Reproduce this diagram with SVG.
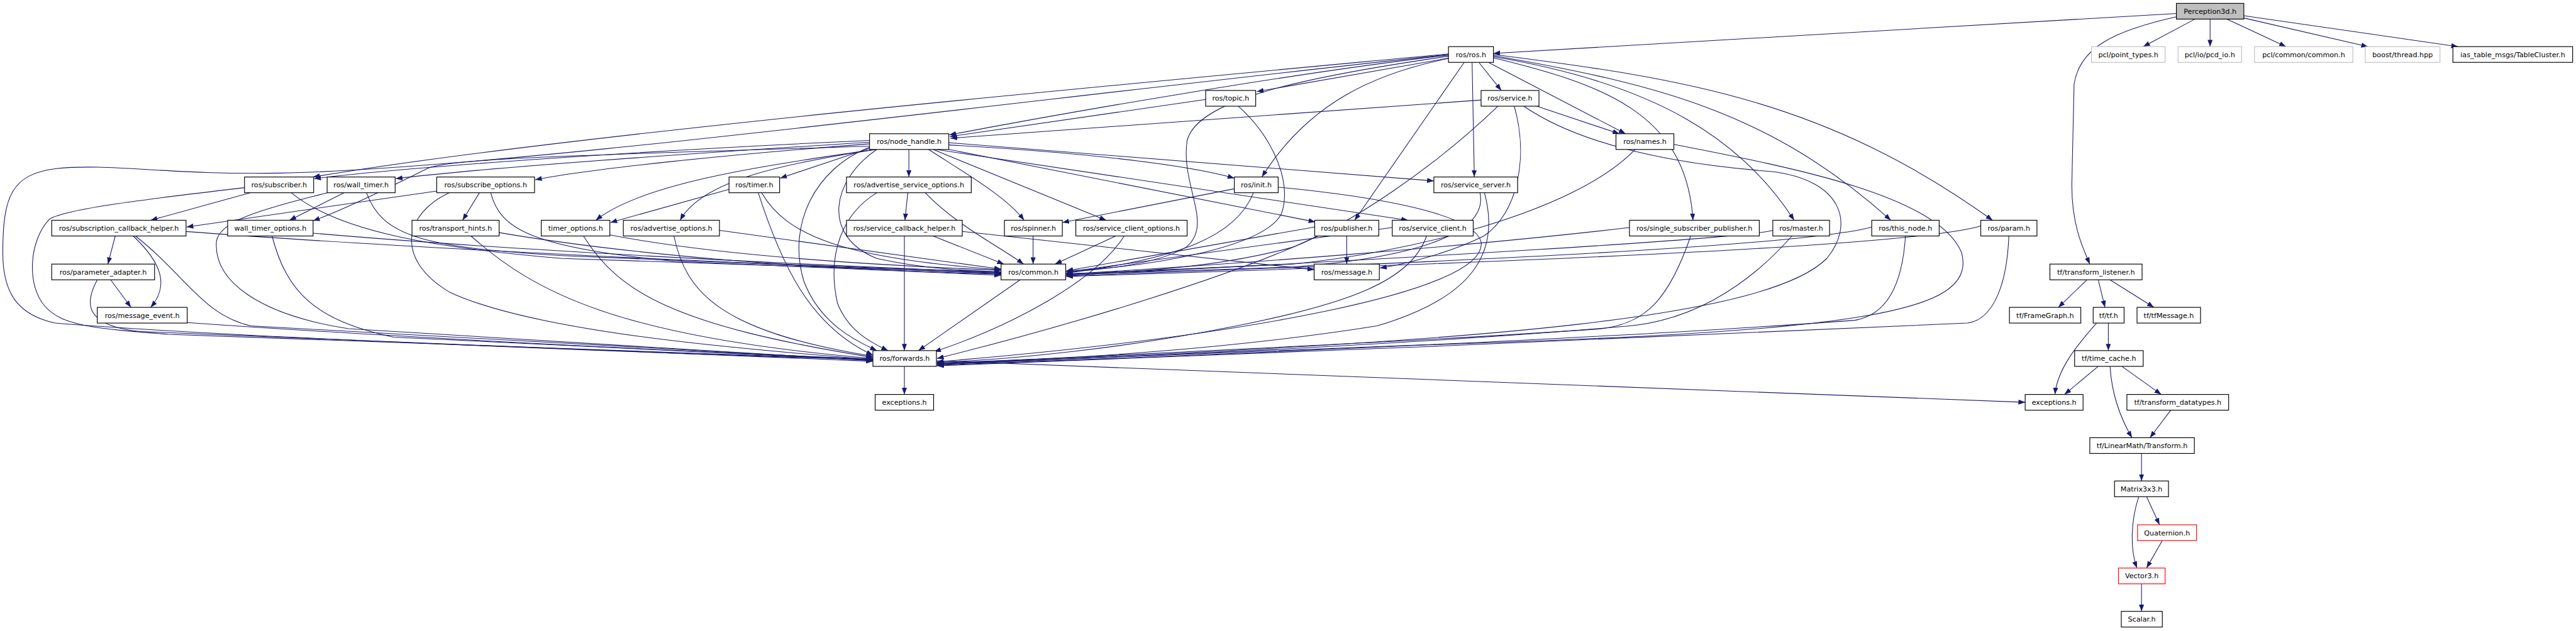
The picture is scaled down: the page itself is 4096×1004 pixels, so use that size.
<svg xmlns="http://www.w3.org/2000/svg" width="4096" height="1004" viewBox="0 0 4096 1004">
<defs>
<style>
.n rect{fill:#fff;stroke:#000;stroke-width:1.3}
.g rect{stroke:#bfbfbf}
.r rect{stroke:#ff0000}
.root rect{fill:#bfbfbf}
.n text{font-family:"DejaVu Sans","Liberation Sans",sans-serif;font-size:12.5px;text-anchor:middle;fill:#000}
#edges path{fill:none;stroke:#191970;stroke-width:1.2;marker-end:url(#a)}
</style>
<marker id="a" markerWidth="12" markerHeight="9" refX="12" refY="4.5" orient="auto" markerUnits="userSpaceOnUse"><path d="M0,0 L12,4.5 L0,9 z" fill="#191970"/></marker>
</defs>
<rect width="4096" height="1004" fill="#fff"/>
<g transform="scale(0.89374,0.89403)">
<g id="edges">
<path d="M3872,24 L2657,95"/>
<path d="M3872,30 C3760,55 3700,85 3690,150 L3686,330 C3686,400 3705,440 3718,470"/>
<path d="M3905,34 L3813,83"/>
<path d="M3932,34 L3932,83"/>
<path d="M3962,34 L4067,83"/>
<path d="M3992,32 L4213,83"/>
<path d="M3992,28 L4373,83"/>
<path d="M2577,98 C2300,130 1900,200 1689,240"/>
<path d="M2580,103 L2236,163"/>
<path d="M2631,111 L2671,161"/>
<path d="M2648,111 L2892,238"/>
<path d="M2577,104 C2450,130 2330,180 2245,315"/>
<path d="M2619,111 L2623,315"/>
<path d="M2605,111 L2410,392"/>
<path d="M2657,103 C2850,150 3000,200 3012,392"/>
<path d="M2657,101 C2950,150 3100,250 3192,392"/>
<path d="M2657,99 C2950,150 3150,200 3364,392"/>
<path d="M2657,97 C3000,140 3250,180 3545,392"/>
<path d="M2577,96 C2000,150 1000,240 557,315"/>
<path d="M2577,100 C2300,140 2130,180 2112,250 C2100,330 2160,400 2110,440 C2060,470 1960,480 1897,484"/>
<path d="M2577,97 C1800,180 900,300 500,308 C300,312 200,290 100,300 C20,310 5,350 5,450 C5,520 30,560 98,575 C400,600 1200,630 1553,640"/>
<path d="M1547,250 C1100,270 700,300 559,318"/>
<path d="M1547,253 C1200,275 850,300 704,318"/>
<path d="M1547,256 C1300,275 1050,300 952,320"/>
<path d="M1547,264 L1388,317"/>
<path d="M1617,266 L1617,315"/>
<path d="M1547,260 C1100,275 800,280 760,300 C720,320 620,370 557,393"/>
<path d="M1555,266 C1400,290 1150,320 1060,392"/>
<path d="M1560,266 C1400,290 1250,320 1210,392"/>
<path d="M1652,266 C1720,310 1790,350 1822,392"/>
<path d="M1660,266 L1968,392"/>
<path d="M1688,258 C1900,270 2100,290 2196,317"/>
<path d="M1688,266 L2340,395"/>
<path d="M1665,266 L2505,392"/>
<path d="M1688,254 L2551,322"/>
<path d="M1560,266 C1480,320 1460,420 1560,460 C1650,480 1730,482 1781,484"/>
<path d="M1547,262 C1450,300 1400,400 1430,500 C1460,580 1530,610 1560,624"/>
<path d="M2145,177 L1690,243"/>
<path d="M2203,189 C2260,240 2300,320 2280,380 C2250,440 2050,475 1897,482"/>
<path d="M2635,178 L1691,246"/>
<path d="M2731,188 L2881,238"/>
<path d="M2665,189 C2550,300 2400,400 2300,440 C2150,480 1980,486 1897,487"/>
<path d="M2711,189 C2800,250 2950,290 3150,305 C3280,320 3300,400 3250,460 C3150,560 2700,610 1667,646"/>
<path d="M2694,189 C2720,280 2700,380 2640,420 C2580,450 2500,470 2455,477"/>
<path d="M2909,266 C2800,380 2500,450 2300,470 L1897,488"/>
<path d="M2978,257 C3200,300 3450,350 3490,450 C3520,560 3300,590 2500,615 L1667,648"/>
<path d="M2196,336 L1890,396"/>
<path d="M2230,343 C2200,420 2100,460 1897,486"/>
<path d="M2274,333 C2450,350 2620,380 2635,430 C2650,520 2200,600 1667,644"/>
<path d="M2633,343 C2650,420 2500,460 2300,475 L1897,489"/>
<path d="M2641,343 C2670,450 2620,530 2450,580 C2200,620 1900,640 1667,647"/>
<path d="M2339,404 L1897,482"/>
<path d="M2396,420 L2396,470"/>
<path d="M2344,420 C2200,490 1900,580 1667,638"/>
<path d="M2477,405 L1897,484"/>
<path d="M2538,420 C2510,500 2400,540 2200,580 C2000,620 1800,640 1667,645"/>
<path d="M2899,405 C2600,440 2200,470 1897,488"/>
<path d="M3008,420 C2970,530 2930,575 2850,585 C2500,610 2000,630 1667,648"/>
<path d="M3154,410 C3100,425 2500,460 1897,490"/>
<path d="M3188,420 C3100,520 3000,570 2900,580 C2500,615 2000,635 1667,649"/>
<path d="M3330,404 C3200,440 2500,470 1897,491"/>
<path d="M3390,420 C3385,500 3360,560 3300,570 C2900,600 2200,630 1667,650"/>
<path d="M3524,402 C3400,440 2600,470 1897,492"/>
<path d="M3574,420 C3570,520 3540,570 3500,575 C3000,600 2200,630 1667,651"/>
<path d="M1815,498 L1634,624"/>
<path d="M1838,420 L1838,470"/>
<path d="M1985,420 L1877,470"/>
<path d="M2000,420 C1950,500 1800,580 1662,626"/>
<path d="M1660,420 L1786,470"/>
<path d="M1609,420 L1609,624"/>
<path d="M1712,412 L2338,480"/>
<path d="M1615,343 L1610,392"/>
<path d="M1646,343 C1700,400 1780,440 1821,470"/>
<path d="M1560,343 C1500,380 1470,450 1490,540 C1510,590 1550,610 1580,624"/>
<path d="M1297,337 L1086,396"/>
<path d="M1355,343 C1400,420 1500,460 1781,480"/>
<path d="M1349,343 C1390,470 1440,580 1553,632"/>
<path d="M1085,418 C1250,450 1500,470 1781,481"/>
<path d="M1038,420 C1100,520 1200,580 1553,636"/>
<path d="M1280,410 L1781,479"/>
<path d="M1199,420 C1220,520 1280,590 1553,634"/>
<path d="M888,414 C1100,450 1400,478 1781,488"/>
<path d="M838,420 C950,520 1100,600 1553,638"/>
<path d="M853,343 L823,392"/>
<path d="M777,340 L332,404"/>
<path d="M873,343 C890,410 950,440 1200,465 L1781,490"/>
<path d="M799,343 C720,380 700,460 800,520 C950,590 1300,620 1553,640"/>
<path d="M612,343 L515,392"/>
<path d="M652,343 C680,420 750,440 1000,455 L1781,487"/>
<path d="M582,343 C480,370 390,390 385,430 C380,500 460,560 620,585 L1553,642"/>
<path d="M445,343 L268,392"/>
<path d="M518,343 C600,410 760,440 1000,460 L1781,486"/>
<path d="M435,334 C300,350 120,370 88,390 C50,430 48,510 80,545 C110,580 170,585 300,595 L1553,640"/>
<path d="M557,415 C900,445 1400,470 1781,485"/>
<path d="M484,420 C510,520 560,570 700,600 L1553,641"/>
<path d="M205,420 L192,470"/>
<path d="M237,420 C290,470 300,510 268,547"/>
<path d="M331,412 C700,440 1300,470 1781,484"/>
<path d="M241,420 C330,490 360,560 446,580 L1553,641"/>
<path d="M197,498 L233,547"/>
<path d="M173,498 C150,540 150,580 250,590 L1553,643"/>
<path d="M333,574 C700,600 1200,625 1553,639"/>
<path d="M3713,498 L3662,547"/>
<path d="M3733,498 L3745,547"/>
<path d="M3754,498 L3832,547"/>
<path d="M3751,575 L3751,624"/>
<path d="M3730,575 C3690,620 3660,660 3656,702"/>
<path d="M3733,652 L3673,702"/>
<path d="M3775,652 L3845,702"/>
<path d="M3754,652 C3757,700 3770,740 3793,779"/>
<path d="M3862,730 L3825,779"/>
<path d="M1666,642 L3603,716"/>
<path d="M1609,652 L1609,702"/>
<path d="M3810,807 L3810,856"/>
<path d="M3819,884 L3842,934"/>
<path d="M3805,884 C3790,930 3790,980 3802,1011"/>
<path d="M3847,962 L3819,1011"/>
<path d="M3810,1039 L3810,1088"/>
</g>
<g id="node-p3d" class="n root"><rect x="3872" y="6" width="120" height="28"/><text x="3932" y="24.5">Perception3d.h</text></g>
<g id="node-ros" class="n"><rect x="2577" y="83" width="80" height="28"/><text x="2617" y="101.5">ros/ros.h</text></g>
<g id="node-pt" class="n g"><rect x="3721" y="83" width="131" height="28"/><text x="3786.5" y="101.5">pcl/point_types.h</text></g>
<g id="node-pcd" class="n g"><rect x="3875" y="83" width="113" height="28"/><text x="3931.5" y="101.5">pcl/io/pcd_io.h</text></g>
<g id="node-pcc" class="n g"><rect x="4011" y="83" width="175" height="28"/><text x="4098.5" y="101.5">pcl/common/common.h</text></g>
<g id="node-boost" class="n g"><rect x="4208" y="83" width="133" height="28"/><text x="4274.5" y="101.5">boost/thread.hpp</text></g>
<g id="node-ias" class="n"><rect x="4364" y="83" width="213" height="28"/><text x="4470.5" y="101.5">ias_table_msgs/TableCluster.h</text></g>
<g id="node-topic" class="n"><rect x="2145" y="161" width="89" height="28"/><text x="2189.5" y="179.5">ros/topic.h</text></g>
<g id="node-service" class="n"><rect x="2635" y="161" width="103" height="28"/><text x="2686.5" y="179.5">ros/service.h</text></g>
<g id="node-nh" class="n"><rect x="1547" y="238" width="141" height="28"/><text x="1617.5" y="256.5">ros/node_handle.h</text></g>
<g id="node-names" class="n"><rect x="2875" y="238" width="103" height="28"/><text x="2926.5" y="256.5">ros/names.h</text></g>
<g id="node-sub" class="n"><rect x="435" y="315" width="123" height="28"/><text x="496.5" y="333.5">ros/subscriber.h</text></g>
<g id="node-wt" class="n"><rect x="582" y="315" width="121" height="28"/><text x="642.5" y="333.5">ros/wall_timer.h</text></g>
<g id="node-so" class="n"><rect x="777" y="315" width="174" height="28"/><text x="864" y="333.5">ros/subscribe_options.h</text></g>
<g id="node-timer" class="n"><rect x="1297" y="315" width="90" height="28"/><text x="1342" y="333.5">ros/timer.h</text></g>
<g id="node-aso" class="n"><rect x="1506" y="315" width="222" height="28"/><text x="1617" y="333.5">ros/advertise_service_options.h</text></g>
<g id="node-init" class="n"><rect x="2196" y="315" width="78" height="28"/><text x="2235" y="333.5">ros/init.h</text></g>
<g id="node-ss" class="n"><rect x="2551" y="315" width="149" height="28"/><text x="2625.5" y="333.5">ros/service_server.h</text></g>
<g id="node-sch" class="n"><rect x="92" y="392" width="239" height="28"/><text x="211.5" y="410.5">ros/subscription_callback_helper.h</text></g>
<g id="node-wto" class="n"><rect x="405" y="392" width="152" height="28"/><text x="481" y="410.5">wall_timer_options.h</text></g>
<g id="node-th" class="n"><rect x="733" y="392" width="155" height="28"/><text x="810.5" y="410.5">ros/transport_hints.h</text></g>
<g id="node-to" class="n"><rect x="963" y="392" width="122" height="28"/><text x="1024" y="410.5">timer_options.h</text></g>
<g id="node-ao" class="n"><rect x="1109" y="392" width="171" height="28"/><text x="1194.5" y="410.5">ros/advertise_options.h</text></g>
<g id="node-sch2" class="n"><rect x="1506" y="392" width="206" height="28"/><text x="1609" y="410.5">ros/service_callback_helper.h</text></g>
<g id="node-spin" class="n"><rect x="1787" y="392" width="103" height="28"/><text x="1838.5" y="410.5">ros/spinner.h</text></g>
<g id="node-sco" class="n"><rect x="1914" y="392" width="198" height="28"/><text x="2013" y="410.5">ros/service_client_options.h</text></g>
<g id="node-pub" class="n"><rect x="2339" y="392" width="114" height="28"/><text x="2396" y="410.5">ros/publisher.h</text></g>
<g id="node-sc" class="n"><rect x="2477" y="392" width="144" height="28"/><text x="2549" y="410.5">ros/service_client.h</text></g>
<g id="node-ssp" class="n"><rect x="2899" y="392" width="231" height="28"/><text x="3014.5" y="410.5">ros/single_subscriber_publisher.h</text></g>
<g id="node-master" class="n"><rect x="3154" y="392" width="101" height="28"/><text x="3204.5" y="410.5">ros/master.h</text></g>
<g id="node-this" class="n"><rect x="3330" y="392" width="120" height="28"/><text x="3390" y="410.5">ros/this_node.h</text></g>
<g id="node-param" class="n"><rect x="3524" y="392" width="100" height="28"/><text x="3574" y="410.5">ros/param.h</text></g>
<g id="node-pa" class="n"><rect x="92" y="470" width="183" height="28"/><text x="183.5" y="488.5">ros/parameter_adapter.h</text></g>
<g id="node-common" class="n"><rect x="1781" y="470" width="115" height="28"/><text x="1838.5" y="488.5">ros/common.h</text></g>
<g id="node-msg" class="n"><rect x="2338" y="470" width="116" height="28"/><text x="2396" y="488.5">ros/message.h</text></g>
<g id="node-tl" class="n"><rect x="3647" y="470" width="164" height="28"/><text x="3729" y="488.5">tf/transform_listener.h</text></g>
<g id="node-me" class="n"><rect x="173" y="547" width="160" height="28"/><text x="253" y="565.5">ros/message_event.h</text></g>
<g id="node-fg" class="n"><rect x="3575" y="547" width="127" height="28"/><text x="3638.5" y="565.5">tf/FrameGraph.h</text></g>
<g id="node-tf" class="n"><rect x="3724" y="547" width="55" height="28"/><text x="3751.5" y="565.5">tf/tf.h</text></g>
<g id="node-tfm" class="n"><rect x="3802" y="547" width="113" height="28"/><text x="3858.5" y="565.5">tf/tfMessage.h</text></g>
<g id="node-fwd" class="n"><rect x="1553" y="624" width="113" height="28"/><text x="1609.5" y="642.5">ros/forwards.h</text></g>
<g id="node-tc" class="n"><rect x="3691" y="624" width="122" height="28"/><text x="3752" y="642.5">tf/time_cache.h</text></g>
<g id="node-exr" class="n"><rect x="1557" y="702" width="104" height="28"/><text x="1609" y="720.5">exceptions.h</text></g>
<g id="node-ext" class="n"><rect x="3603" y="702" width="103" height="28"/><text x="3654.5" y="720.5">exceptions.h</text></g>
<g id="node-td" class="n"><rect x="3784" y="702" width="181" height="28"/><text x="3874.5" y="720.5">tf/transform_datatypes.h</text></g>
<g id="node-tr" class="n"><rect x="3718" y="779" width="186" height="28"/><text x="3811" y="797.5">tf/LinearMath/Transform.h</text></g>
<g id="node-m33" class="n"><rect x="3762" y="856" width="96" height="28"/><text x="3810" y="874.5">Matrix3x3.h</text></g>
<g id="node-q" class="n r"><rect x="3803" y="934" width="105" height="28"/><text x="3855.5" y="952.5">Quaternion.h</text></g>
<g id="node-v3" class="n r"><rect x="3769" y="1011" width="83" height="28"/><text x="3810.5" y="1029.5">Vector3.h</text></g>
<g id="node-scalar" class="n"><rect x="3774" y="1088" width="73" height="28"/><text x="3810.5" y="1106.5">Scalar.h</text></g>
</g>
</svg>
